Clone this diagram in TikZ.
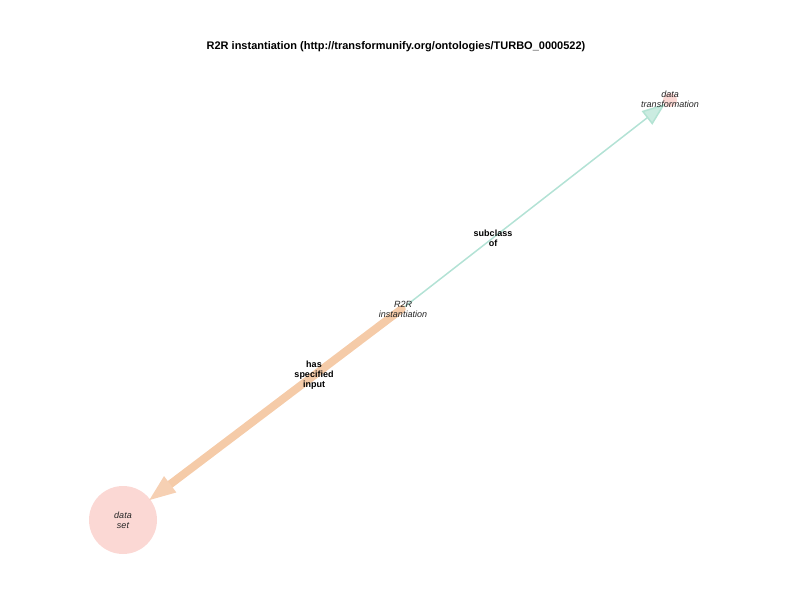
\documentclass[tikz,border=0pt]{standalone}
\usepackage{fontspec}
\setmainfont{Liberation Sans}
\usetikzlibrary{arrows.meta}
\definecolor{nodepink}{HTML}{FBD8D4}
\definecolor{edgeteal}{HTML}{B3E2D5}
\definecolor{edgeorange}{HTML}{F5CBA8}
\definecolor{tiporange}{HTML}{F0B080}
\definecolor{tipteal}{HTML}{A0DCC8}
\begin{document}
\begin{tikzpicture}[x=1pt,y=-1pt,
  vert/.style={circle,fill=nodepink,draw=none,inner sep=0pt},
  vlabel/.style={font=\fontsize{9}{10}\selectfont\itshape,align=center,text=black!85},
  elabel/.style={font=\fontsize{9}{10}\selectfont\bfseries,align=center},
  tealedge/.style={draw=edgeteal,line width=1.5pt,shorten >=-1pt,
    -{Triangle[length=23pt,width=17pt,fill=tipteal!55,color=tipteal!80]}},
  orangeedge/.style={draw=edgeorange,line width=8pt,line cap=round,shorten >=-3pt,
    -{Triangle[length=28pt,width=18pt,fill=tiporange!75,color=tiporange!60]}}
]
\useasboundingbox (0,0) rectangle (792,612);
\node[font=\fontsize{11}{13}\selectfont\bfseries] (title) at (396,47) {R2R instantiation (http://transformunify.org/ontologies/TURBO\_0000522)};
\node[vert,minimum size=68pt] (ds) at (123,520) {};
\node[vert,minimum size=14pt] (dt) at (670,100) {};
\node[inner sep=0pt,minimum size=2pt] (r2r) at (403,308) {};
\draw[tealedge] (r2r) -- (dt);
\draw[orangeedge] (r2r) -- (ds);
\node[vlabel] (dtl) at (670,99) {data\\transformation};
\node[vlabel] (r2rl) at (403,309) {R2R\\instantiation};
\node[vlabel] (dsl) at (123,520) {data\\set};
\node[elabel] (e1) at (493,238) {subclass\\of};
\node[elabel] (e2) at (314,375) {has\\specified\\input};
\end{tikzpicture}
\end{document}
